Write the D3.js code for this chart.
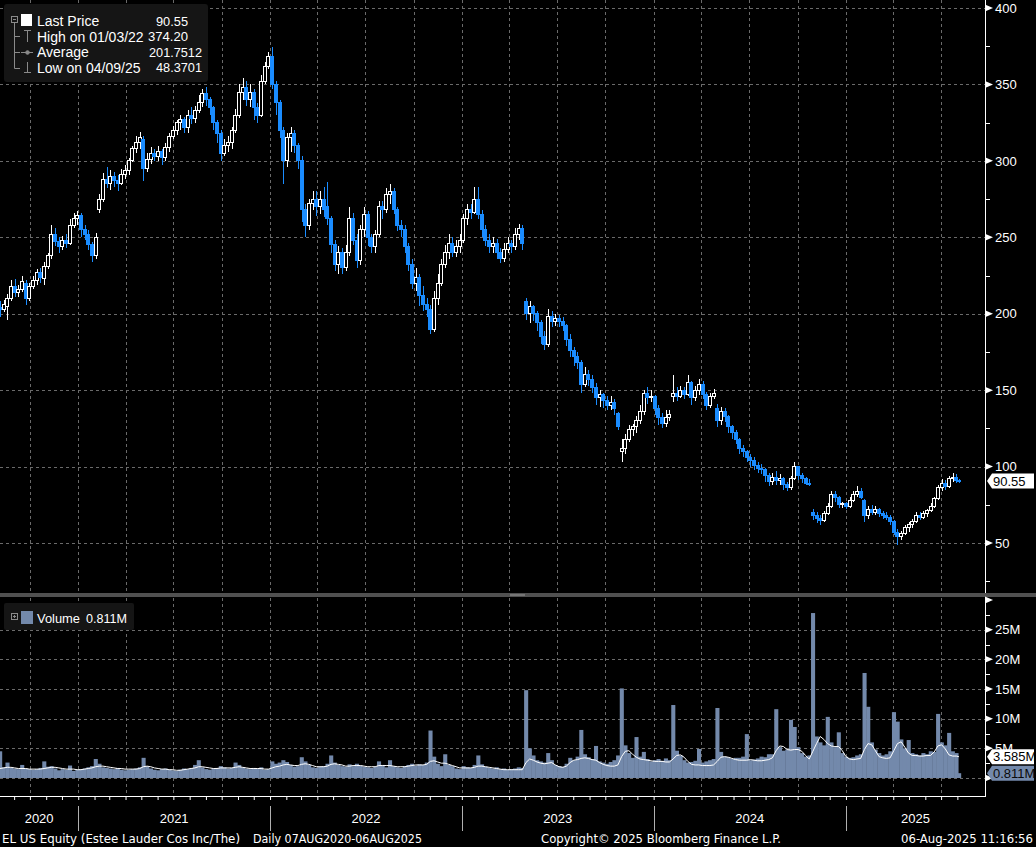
<!DOCTYPE html>
<html lang="en">
<head>
<meta charset="UTF-8">
<title>EL US Equity - Daily 07AUG2020-06AUG2025</title>
<script src="https://d3js.org/d3.v7.min.js"></script>
<style>
html, body { margin: 0; padding: 0; background: #000; overflow: hidden; }
svg { display: block; background: #000; font-family: "Liberation Sans", Arial, sans-serif; }
</style>
</head>
<body>
<svg width="1036" height="847"></svg>
<script>
// weekly candles, [open, high, low, close], week ending on the given Friday
const firstWeek = "2020-08-07";
const lastDay = "2025-08-06";

const candles = [
  // 2020
  [204,208,198,203],[203,209,201,206],[205,213,196,210],[210,222,208,218],[218,223,211,214],
  [214,219,211,216],[216,225,214,221],[220,222,206,210],[210,220,208,218],[218,225,216,222],
  [222,229,219,227],[227,230,220,224],[223,234,219,231],[231,240,229,238],[238,258,236,252],
  [252,256,244,247],[247,250,240,244],[244,251,242,248],[248,252,243,246],[246,262,245,258],
  [258,266,256,262],
  // 2021
  [262,267,258,264],[264,266,250,255],[255,258,248,252],[252,255,242,245],[245,247,234,238],
  [238,253,236,250],[268,278,266,275],[275,292,273,288],[288,296,282,285],[285,294,281,290],
  [290,293,283,287],[287,291,280,285],[285,295,284,291],[291,297,288,294],[294,302,291,300],
  [300,310,299,308],[308,316,305,312],[312,319,308,315],[314,316,287,295],[295,305,293,301],
  [301,309,298,305],[305,308,300,303],[303,310,300,306],[306,308,297,302],[302,312,300,309],
  [309,318,306,316],[316,323,314,320],[320,327,317,325],[325,330,320,327],[327,329,318,322],
  [322,333,318,330],[330,335,324,328],[328,336,325,333],[333,343,331,338],[338,347,335,344],
  [344,348,336,340],[340,342,330,335],[335,336,320,325],[325,327,312,318],[318,320,300,305],
  [305,314,303,310],[310,316,306,312],[312,322,308,320],[320,334,318,330],[330,350,328,345],
  [345,354,340,348],[348,352,336,340],[340,350,335,345],[345,347,327,335],[335,338,325,330],
  [330,356,329,352],[352,365,350,362],[362,371,360,368],
  // 2022
  [368,374.2,347,350],[350,352,330,338],[338,340,315,320],[320,322,285,300],[300,318,296,315],
  [315,322,306,318],[318,320,305,310],[310,312,295,300],[300,303,260,268],[268,272,250,258],
  [258,275,255,272],[272,280,268,275],[275,280,264,270],[270,280,265,275],[275,283,263,268],
  [270,286,258,262],[262,264,240,245],[245,248,228,232],[232,244,226,240],[240,243,226,230],
  [230,245,228,240],[240,270,238,262],[262,266,245,248],[248,252,230,235],[235,258,232,255],
  [255,270,250,265],[265,267,244,250],[250,252,240,244],[244,255,240,252],[252,274,250,270],
  [270,274,262,268],[268,282,266,278],[278,285,272,280],[280,282,265,268],[268,270,254,258],
  [258,261,250,255],[255,258,240,244],[244,246,228,232],[232,236,216,220],[220,230,215,224],
  [224,226,205,212],[212,218,202,206],[206,210,198,203],[203,206,187,190],[190,215,188,210],
  [210,226,206,220],[220,236,218,232],[232,245,230,240],[240,252,236,246],[246,250,237,240],
  [240,248,237,244],[244,252,240,248],
  // 2023
  [248,265,246,262],[262,272,258,268],[268,272,262,266],[266,283,265,275],[275,283,262,265],
  [265,268,250,255],[255,258,244,248],[248,252,240,244],[244,250,240,246],[246,249,236,240],
  [240,243,233,236],[236,246,234,242],[242,250,240,246],[246,248,240,244],[244,256,242,252],
  [252,259,248,256],[256,258,242,246],[208,210,196,200],[200,208,194,205],[205,206,195,200],
  [200,202,189,194],[194,196,180,185],[185,189,176,180],[180,203,178,198],[198,202,191,195],
  [195,200,192,197],[197,199,191,195],[195,198,189,192],[192,193,179,183],[183,187,172,176],
  [176,178,166,172],[172,175,164,168],[168,170,148,154],[154,165,152,160],[160,163,153,157],
  [157,160,148,152],[152,155,140,145],[145,150,139,147],[147,148,138,143],[143,146,137,140],
  [140,146,137,142],[142,144,134,138],[135,136,124,126],[110,118,103,112],[112,121,108,118],
  [118,127,116,124],[124,128,120,126],[126,133,122,130],[130,140,128,136],[136,150,134,148],
  [148,152,141,145],[145,150,142,146],
  // 2024
  [146,147,134,138],[138,140,127,132],[132,135,125,128],[128,137,126,132],[132,137,130,134],
  [146,160,142,148],[148,152,143,146],[146,153,145,150],[150,152,144,147],[147,160,146,155],
  [155,156,140,145],[145,153,143,150],[150,157,147,154],[154,156,144,147],[147,149,137,140],
  [140,148,138,146],[146,151,144,148],[138,141,126,130],[130,139,127,136],[136,138,129,133],
  [133,134,122,126],[126,127,118,122],[122,124,115,118],[118,119,108,112],[112,114,106,110],
  [110,111,103,106],[106,108,100,104],[104,106,98,101],[101,103,96,99],[99,102,95,98],
  [98,99,90,94],[94,96,87,90],[90,96,88,93],[93,97,88,91],[91,95,88,92],
  [92,93,85,88],[88,90,84,86],[86,94,85,92],[92,103,91,100],[100,100,91,94],
  [94,96,89,92],[92,93,88,89],[89,92,87,88],[70,72,65,68],[68,70,63,66],
  [66,68,62,65],[65,71,64,69],[69,76,68,74],[74,84,73,82],[82,84,77,80],
  [80,81,73,75],[75,77,73,76],
  // 2025
  [76,77,72,74],[74,80,73,78],[78,84,77,82],[82,87,80,84],[84,86,79,80],
  [78,79,64,68],[68,74,66,72],[72,75,68,70],[70,74,68,72],[72,73,67,69],
  [69,71,66,68],[68,70,65,67],[67,68,62,64],[64,65,55,57],[57,59,48.37,54],
  [54,58,52,56],[56,62,55,60],[60,64,57,62],[62,66,60,64],[64,70,63,68],
  [68,70,65,67],[67,71,66,69],[69,72,67,71],[71,76,70,74],[74,80,73,79],
  [79,88,78,86],[86,92,84,89],[89,91,85,87],[87,94,86,92],[92,96,90,93],
  [93,95,89,91],[91,92,89,90.55]
];

// daily volume level shown for each week, millions
const volume = [
  4.5,1.8,2.6,1.7,1.6,1.5,2.2,1.6,1.5,1.4, 1.5,1.7,2.8,1.9,2.0,1.6,1.3,1.5,1.4,2.1,
  1.2,1.4,1.5,1.6,1.8,2.0,3.2,2.4,1.8,1.7, 1.6,1.5,1.7,1.4,1.3,1.4,1.5,1.6,1.8,3.4,
  2.0,1.6,1.4,1.3,1.5,1.6,1.4,1.3,1.2,1.4, 1.6,1.5,1.7,2.2,3.0,1.8,1.5,1.4,1.6,1.7,
  2.0,1.8,1.6,1.7,2.6,2.2,1.8,1.6,1.5,1.7, 1.6,1.8,1.4,1.5,2.8,2.4,2.6,3.0,2.7,2.2,
  1.9,2.0,3.5,2.8,2.2,1.8,1.7,1.9,2.0,2.4, 3.8,2.6,2.2,2.0,1.9,2.3,2.0,2.4,2.1,1.9,
  1.8,1.7,1.9,2.8,2.2,1.8,3.0,2.0,1.8,1.7, 2.0,2.2,2.4,2.1,2.3,2.2,2.6,8.0,3.6,2.4,
  2.0,4.0,2.2,2.0,1.6,1.5,2.0,1.8,1.7,2.2, 3.8,2.3,1.9,1.7,1.6,1.8,1.5,1.6,1.4,1.5,
  1.6,1.8,1.7,14.8,5.0,3.8,3.0,2.8,2.6,4.2, 3.0,2.2,2.0,1.9,2.4,3.4,3.0,3.6,8.1,4.0,
  3.5,3.2,5.4,2.8,2.6,2.4,2.7,3.0,3.8,15.1, 5.5,4.2,3.4,6.9,3.6,4.4,3.2,2.8,3.0,3.2,
  2.9,3.3,3.0,12.3,4.6,3.8,3.0,2.6,2.7,2.9, 4.9,2.6,2.8,3.0,3.2,11.8,4.4,3.6,3.5,3.2,
  3.4,3.4,3.6,7.4,3.0,3.1,3.3,3.6,3.5,4.0, 4.0,11.6,5.2,4.6,4.8,9.8,8.6,5.2,4.2,3.6,
  3.8,27.8,7.0,6.0,5.5,10.3,6.0,5.2,7.7,4.2, 3.6,3.4,3.5,3.8,4.0,17.7,12.0,6.0,4.8,4.2,
  3.8,4.0,4.5,11.1,9.5,6.5,5.0,6.4,4.2,4.0, 3.8,4.2,4.0,4.5,4.4,10.8,6.0,5.5,7.6,4.5,
  4.2,0.811
];

// volume moving average (white line), millions
const volumeAvg = [
  1.6,1.7,1.8,1.8,1.7,1.6,1.6,1.6,1.5,1.5, 1.5,1.5,1.6,1.7,1.8,1.8,1.7,1.6,1.5,1.5,
  1.5,1.4,1.4,1.5,1.6,1.7,1.9,2.0,2.0,1.9, 1.8,1.7,1.6,1.6,1.5,1.5,1.5,1.5,1.6,1.9,
  2.0,1.9,1.7,1.6,1.5,1.5,1.4,1.4,1.3,1.3, 1.4,1.5,1.6,1.7,1.9,1.9,1.8,1.7,1.6,1.6,
  1.7,1.7,1.7,1.7,1.8,1.9,1.8,1.7,1.6,1.6, 1.6,1.6,1.5,1.5,1.7,1.9,2.0,2.2,2.3,2.2,
  2.1,2.1,2.3,2.4,2.3,2.1,1.9,1.9,1.9,2.0, 2.3,2.4,2.3,2.2,2.0,2.0,2.1,2.1,2.1,2.0,
  1.9,1.9,1.9,2.1,2.1,2.1,2.1,2.0,1.9,1.9, 1.9,2.0,2.1,2.2,2.2,2.2,2.3,2.8,2.9,2.7,
  2.5,2.5,2.3,2.1,1.9,1.7,1.7,1.7,1.7,1.8, 2.0,2.0,1.9,1.8,1.7,1.6,1.5,1.4,1.4,1.4,
  1.4,1.4,1.4,2.6,3.2,3.0,2.7,2.5,2.4,2.5, 2.6,2.2,1.9,1.8,2.0,2.6,3.0,3.1,3.3,3.4,
  3.3,3.1,3.0,2.6,2.3,2.1,2.0,2.0,2.2,3.6, 4.5,4.6,4.0,3.5,3.2,3.1,3.0,2.9,2.8,2.8,
  2.8,2.7,2.7,3.2,3.8,3.9,3.5,2.8,2.3,2.2, 2.2,2.1,2.1,2.1,2.2,2.8,3.5,3.6,3.5,3.3,
  3.1,3.0,3.0,3.0,3.1,3.0,2.9,2.9,3.0,3.1, 3.4,4.6,5.4,5.3,4.8,4.7,4.8,4.8,4.5,3.8,
  3.2,4.5,5.8,7.0,6.5,5.8,5.4,5.3,5.3,4.6, 3.6,3.2,3.1,3.2,3.3,4.8,5.8,5.6,4.6,3.6,
  3.4,3.3,3.4,4.6,5.8,6.1,5.2,4.2,3.8,3.8, 3.7,3.7,3.8,3.8,4.4,5.4,5.6,4.9,3.9,3.7,
  3.7,3.585
];

const priceTicks = [50, 100, 150, 200, 250, 300, 350, 400];
const priceMinor = [25, 75, 125, 175, 225, 275, 325, 375];
const volumeTicks = [0, 5, 10, 15, 20, 25, 30];
const volumeLabels = [5, 10, 15, 20, 25];
const volumeMinor = [2.5, 7.5, 12.5, 17.5, 22.5, 27.5];
const years = [2020, 2021, 2022, 2023, 2024, 2025];

const legendRows = [
  { label: "Last Price", value: "90.55", x: 156, w: 32 },
  { label: "High on 01/03/22", value: "374.20", x: 148, w: 40 },
  { label: "Average", value: "201.7512", x: 149, w: 53 },
  { label: "Low on 04/09/25", value: "48.3701", x: 156, w: 46 }
];
const lastPrice = 90.55;
const lastVolume = 0.811;
const lastAvg = 3.585;

const footer = [
  { text: "EL US Equity (Estee Lauder Cos Inc/The)", x: 2, len: 238 },
  { text: "Daily 07AUG2020-06AUG2025", x: 253, len: 169 },
  { text: "Copyright\u00A9 2025 Bloomberg Finance L.P.", x: 541, len: 240 },
  { text: "06-Aug-2025 11:16:56", x: 901, len: 132 }
];

const svg = d3.select("svg");
const axisX = 985;
const upColor = "#ffffff", downColor = "#1a8cff", volColor = "#7389ab";
const gridColor = "#6a6a6a";

const parseDay = d3.timeParse("%Y-%m-%d");
const start = parseDay(firstWeek), end = parseDay(lastDay);

const data = candles.map((c, i) => ({
  date: i === candles.length - 1 ? end : d3.timeDay.offset(start, 7 * i),
  o: c[0], h: c[1], l: c[2], c: c[3],
  v: volume[i], avg: volumeAvg[i]
}));

const x = d3.scaleTime().domain([start, end]).range([1, 960]);
const y = d3.scaleLinear().domain([50, 400]).range([543, 8]);
const yv = d3.scaleLinear().domain([0, 30]).range([778, 600]);
const step = x(d3.timeDay.offset(start, 7)) - x(start);
const cx = d => x(d3.timeDay.offset(d.date, -2));
const px = v => Math.round(v) + 0.5;

const defs = svg.append("defs");
defs.append("clipPath").attr("id", "clipPrice")
  .append("rect").attr("x", 0).attr("y", 0).attr("width", axisX).attr("height", 593);
defs.append("clipPath").attr("id", "clipVol")
  .append("rect").attr("x", 0).attr("y", 598).attr("width", axisX).attr("height", 198);

// grid
const grid = svg.append("g").attr("stroke", gridColor).attr("stroke-dasharray", "3,3").attr("stroke-width", 1);
const quarters = x.ticks(d3.timeMonth.every(3));
grid.selectAll("line.qp").data(quarters).join("line").attr("class", "qp")
  .attr("x1", d => px(x(d))).attr("x2", d => px(x(d))).attr("y1", 0).attr("y2", 593);
grid.selectAll("line.qv").data(quarters).join("line").attr("class", "qv")
  .attr("x1", d => px(x(d))).attr("x2", d => px(x(d))).attr("y1", 598).attr("y2", 796);
grid.selectAll("line.hp").data(priceTicks).join("line").attr("class", "hp")
  .attr("x1", 0).attr("x2", axisX).attr("y1", d => px(y(d))).attr("y2", d => px(y(d)));
grid.selectAll("line.hv").data(volumeTicks.filter(t => t < 30)).join("line").attr("class", "hv")
  .attr("x1", 0).attr("x2", axisX).attr("y1", d => px(yv(d))).attr("y2", d => px(yv(d)));

// candles
const up = d => d.c >= d.o;
const cg = svg.append("g").attr("clip-path", "url(#clipPrice)").attr("shape-rendering", "crispEdges");
cg.selectAll("line").data(data).join("line")
  .attr("x1", d => px(cx(d))).attr("x2", d => px(cx(d)))
  .attr("y1", d => y(d.h)).attr("y2", d => y(d.l))
  .attr("stroke", d => up(d) ? upColor : downColor);
cg.selectAll("rect").data(data).join("rect")
  .attr("x", d => Math.round(cx(d)) - 1.5)
  .attr("width", 3)
  .attr("y", d => y(Math.max(d.o, d.c)))
  .attr("height", d => Math.max(1, Math.abs(y(d.o) - y(d.c))))
  .attr("fill", d => up(d) ? "#000" : downColor)
  .attr("stroke", d => up(d) ? upColor : downColor);

// volume
const vg = svg.append("g").attr("clip-path", "url(#clipVol)");
vg.selectAll("rect").data(data).join("rect")
  .attr("x", d => cx(d) - step / 2)
  .attr("width", step + 0.4)
  .attr("y", d => yv(d.v))
  .attr("height", d => yv(0) - yv(d.v))
  .attr("fill", volColor);
vg.append("path").datum(data)
  .attr("fill", "none").attr("stroke", "#fff").attr("stroke-width", 1)
  .attr("d", d3.line().x(cx).y(d => yv(d.avg)));

// panel separator
svg.append("rect").attr("x", 0).attr("y", 593).attr("width", 1036).attr("height", 4).attr("fill", "#505050");
svg.append("line").attr("x1", 510).attr("x2", 525).attr("y1", 595).attr("y2", 595).attr("stroke", "#9a9a9a");

// right axes
const axisFont = g => g.selectAll("text").attr("fill", "#fff").attr("font-size", 13)
  .attr("font-family", "'Liberation Sans', Arial, sans-serif");
const tri = (g, scale, ticks) => g.selectAll("path.tri").data(ticks).join("path").attr("class", "tri")
  .attr("d", d => `M${axisX},${scale(d) - 3.5}L${axisX + 8},${scale(d)}L${axisX},${scale(d) + 3.5}Z`)
  .attr("fill", "#fff");

const pAxis = svg.append("g").attr("transform", `translate(${axisX},0)`)
  .call(d3.axisRight(y).tickValues(priceTicks).tickSize(0).tickPadding(10));
pAxis.select(".domain").remove();
pAxis.call(axisFont);
const pMarks = svg.append("g");
tri(pMarks, y, priceTicks);
pMarks.selectAll("line").data(priceMinor).join("line")
  .attr("x1", axisX).attr("x2", axisX + 5).attr("y1", d => px(y(d))).attr("y2", d => px(y(d)))
  .attr("stroke", "#fff");

const vAxis = svg.append("g").attr("transform", `translate(${axisX},0)`)
  .call(d3.axisRight(yv).tickValues(volumeLabels).tickSize(0).tickPadding(10).tickFormat(d => d + "M"));
vAxis.select(".domain").remove();
vAxis.call(axisFont);
const vMarks = svg.append("g");
tri(vMarks, yv, volumeTicks);
vMarks.selectAll("line").data(volumeMinor).join("line")
  .attr("x1", axisX).attr("x2", axisX + 5).attr("y1", d => px(yv(d))).attr("y2", d => px(yv(d)))
  .attr("stroke", "#fff");

svg.append("line").attr("x1", axisX + 0.5).attr("x2", axisX + 0.5).attr("y1", 0).attr("y2", 593).attr("stroke", "#fff");
svg.append("line").attr("x1", axisX + 0.5).attr("x2", axisX + 0.5).attr("y1", 597).attr("y2", 797).attr("stroke", "#fff");

// last value tags
function tag(yc, text, fill, color) {
  const g = svg.append("g");
  g.append("path")
    .attr("d", `M${axisX + 2},${yc}L${axisX + 7},${yc - 7.5}H1034V${yc + 7.5}H${axisX + 7}Z`)
    .attr("fill", fill);
  g.append("text").attr("x", axisX + 8).attr("y", yc).attr("dy", "0.35em")
    .attr("font-size", 13).attr("fill", color).text(text);
}
tag(y(lastPrice), lastPrice.toFixed(2), "#fff", "#000");
tag(yv(lastAvg), lastAvg.toFixed(3) + "M", "#fff", "#000");
tag(yv(lastVolume), lastVolume.toFixed(3) + "M", volColor, "#0a0a0a");

// bottom axis
const xAxis = svg.append("g").attr("transform", "translate(0,796)")
  .call(d3.axisBottom(x).ticks(d3.timeMonth.every(1)).tickSize(4).tickFormat(""));
xAxis.select(".domain").remove();
xAxis.selectAll("line").attr("stroke", "#fff");
svg.append("line").attr("x1", 0).attr("x2", axisX + 1).attr("y1", 796.5).attr("y2", 796.5).attr("stroke", "#fff");

const yearStarts = d3.timeYear.range(start, end);
svg.append("g").selectAll("line").data(yearStarts).join("line")
  .attr("x1", d => px(x(d))).attr("x2", d => px(x(d))).attr("y1", 806).attr("y2", 831)
  .attr("stroke", "#b0b0b0");
svg.append("g").selectAll("text").data(years).join("text")
  .attr("x", d => (Math.max(0, x(new Date(d, 0, 1))) + Math.min(axisX, x(new Date(d + 1, 0, 1)))) / 2)
  .attr("y", 823).attr("text-anchor", "middle").attr("font-size", 13).attr("fill", "#fff")
  .text(d => d);

// footer
svg.append("g").selectAll("text").data(footer).join("text")
  .attr("x", d => d.x).attr("y", 843)
  .attr("font-family", "'Liberation Sans Narrow', 'DejaVu Sans Condensed', sans-serif")
  .attr("font-size", 12.5).attr("fill", "#fff")
  .attr("textLength", d => d.len).attr("lengthAdjust", "spacingAndGlyphs")
  .text(d => d.text);

// price legend
const lg = svg.append("g");
lg.append("rect").attr("x", 4).attr("y", 4).attr("width", 204).attr("height", 78).attr("rx", 3).attr("fill", "#151515");
const icon = lg.append("g").attr("stroke", "#8a8a8a").attr("fill", "none");
icon.append("rect").attr("x", 11.5).attr("y", 16.5).attr("width", 6).attr("height", 6);
icon.append("line").attr("x1", 13).attr("x2", 16).attr("y1", 19.5).attr("y2", 19.5);
icon.append("path").attr("d", "M14.5,23V68.5M14.5,36.5H20M14.5,52.5H20M14.5,68.5H20");
icon.append("path").attr("d", "M24,30.5H31M27.5,30.5V42");
icon.append("path").attr("d", "M21,52.5H33");
icon.append("circle").attr("cx", 27.5).attr("cy", 52.5).attr("r", 1.8).attr("fill", "#8a8a8a");
icon.append("path").attr("d", "M27.5,62V72.5M24,72.5H31");
lg.append("rect").attr("x", 21).attr("y", 14).attr("width", 11).attr("height", 12).attr("fill", "#fff");
const rowY = [21, 36.5, 52, 67.5];
lg.selectAll("text.lab").data(legendRows).join("text").attr("class", "lab")
  .attr("x", 37).attr("y", (d, i) => rowY[i]).attr("dy", "0.36em")
  .attr("font-size", 14).attr("fill", "#fff").text(d => d.label);
lg.selectAll("text.val").data(legendRows).join("text").attr("class", "val")
  .attr("x", d => d.x).attr("y", (d, i) => rowY[i]).attr("dy", "0.36em")
  .attr("font-size", 13.5).attr("fill", "#fff")
  .attr("textLength", d => d.w).attr("lengthAdjust", "spacingAndGlyphs")
  .text(d => d.value);

// volume legend
const vl = svg.append("g");
vl.append("rect").attr("x", 4).attr("y", 603).attr("width", 130).attr("height", 27).attr("rx", 2).attr("fill", "#151515");
vl.append("rect").attr("x", 11.5).attr("y", 613.5).attr("width", 6).attr("height", 6).attr("fill", "none").attr("stroke", "#8a8a8a");
vl.append("path").attr("d", "M13,616.5H16M14.5,615V618").attr("stroke", "#8a8a8a");
vl.append("rect").attr("x", 21).attr("y", 611).attr("width", 12).attr("height", 13).attr("fill", volColor);
vl.append("text").attr("x", 37).attr("y", 618).attr("dy", "0.36em").attr("font-size", 13.5).attr("fill", "#fff")
  .attr("textLength", 43).attr("lengthAdjust", "spacingAndGlyphs").text("Volume");
vl.append("text").attr("x", 86).attr("y", 618).attr("dy", "0.36em").attr("font-size", 13.5).attr("fill", "#fff")
  .attr("textLength", 41).attr("lengthAdjust", "spacingAndGlyphs")
  .text(lastVolume.toFixed(3) + "M");
</script>
</body>
</html>
